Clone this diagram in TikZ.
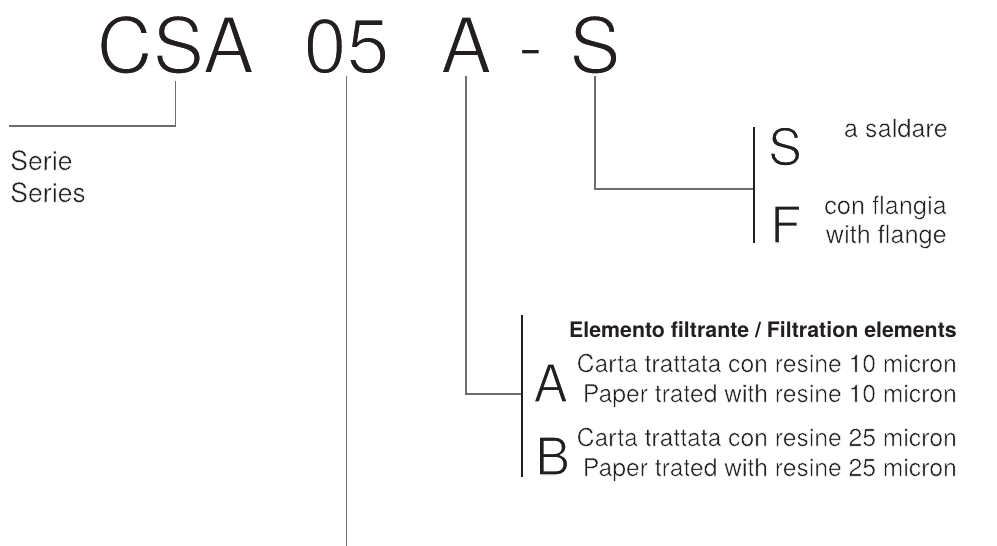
\documentclass[tikz,border=0pt]{standalone}
\usepackage{fontspec}
\setmainfont{TeX Gyre Heros}
\usetikzlibrary{positioning,calc}
\definecolor{ink}{HTML}{231F20}
\definecolor{leadgray}{HTML}{6D6E71}
% thin the glyphs with a white outline (light face look)
\newcommand{\lightface}[2]{{\special{pdf:literal direct 2 Tr 1 1 1 RG #1 w}#2\special{pdf:literal direct 0 Tr}}}
\tikzset{code/.style = {font=\fontsize{58}{58}\selectfont, text=ink, inner sep=0pt, anchor=base},
         option/.style = {font=\fontsize{39}{39}\selectfont, text=ink, inner sep=0pt, anchor=base west},
         desc/.style = {font=\fontsize{18.5}{18.5}\selectfont, text=ink, inner sep=0pt, anchor=base east},
         head/.style = {font=\fontsize{16}{16}\selectfont\bfseries, text=ink, inner sep=0pt, anchor=base east},
         lead/.style = {draw=leadgray, line width=0.8pt},
         bar/.style = {draw=ink, line width=0.8pt}}

\begin{document}
\begin{tikzpicture}[x=0.75pt, y=-0.75pt]
    \useasboundingbox (0,0) rectangle (997,546);

    % the code
    \node[code] (csa) at (175.5,73) {\lightface{1.4}{CSA}};
    \node[code] (size) at (346.5,73) {\lightface{1.4}{05}};
    \node[code] (elem) at (466,73) {\lightface{1.4}{A}};
    \node[code] (dash) at (530.5,73) {\lightface{1.4}{-}};
    \node[code] (conn) at (595,73) {\lightface{1.4}{S}};

    % series
    \node[desc, anchor=base west, font=\fontsize{20}{20}\selectfont] (serie) at (10,170) {\lightface{0.35}{Serie}};
    \node[desc, anchor=base west, font=\fontsize{20}{20}\selectfont] (series) at (10,202) {\lightface{0.35}{Series}};
    \coordinate (serie-end) at (9,126);
    \draw[lead] ($(csa.base)+(0,8)$) |- (serie-end);

    % size
    \coordinate (size-end) at (346.5,546);
    \draw[lead] ($(size.base)+(0,3)$) -- (size-end);

    % filtration elements
    \coordinate (elem-top) at (522,315);
    \coordinate (elem-join) at (522,394);
    \coordinate (elem-bot) at (522,477);
    \draw[lead] ($(elem.base)+(0,3)$) |- (elem-join);
    \draw[bar] (elem-top) -- (elem-bot);
    \node[head] (elem-head) at (957,337) {Elemento filtrante / Filtration elements};
    \node[option] (opt-a) at (533,402) {\lightface{0.9}{A}};
    \node[desc] (a-it) at (957,372) {\lightface{0.35}{Carta trattata con resine 10 micron}};
    \node[desc] (a-en) at (957,402) {\lightface{0.35}{Paper trated with resine 10 micron}};
    \node[option] (opt-b) at (535,475) {\lightface{0.9}{B}};
    \node[desc] (b-it) at (957,446) {\lightface{0.35}{Carta trattata con resine 25 micron}};
    \node[desc] (b-en) at (957,476) {\lightface{0.35}{Paper trated with resine 25 micron}};

    % connection
    \coordinate (conn-top) at (754,127);
    \coordinate (conn-join) at (754,189);
    \coordinate (conn-bot) at (754,243);
    \draw[lead] ($(conn.base)+(0,3)$) |- (conn-join);
    \draw[bar] (conn-top) -- (conn-bot);
    \node[option, font=\fontsize{38}{38}\selectfont] (opt-s) at (768,165) {\lightface{0.9}{S}};
    \node[desc, font=\fontsize{19}{19}\selectfont] (s-it) at (948,137) {\lightface{0.35}{a saldare}};
    \node[option, font=\fontsize{38}{38}\selectfont] (opt-f) at (770,243) {\lightface{0.9}{F}};
    \node[desc, font=\fontsize{19}{19}\selectfont] (f-it) at (947,214) {\lightface{0.35}{con flangia}};
    \node[desc, font=\fontsize{19}{19}\selectfont] (f-en) at (947,243) {\lightface{0.35}{with flange}};
  \end{tikzpicture}
\end{document}
